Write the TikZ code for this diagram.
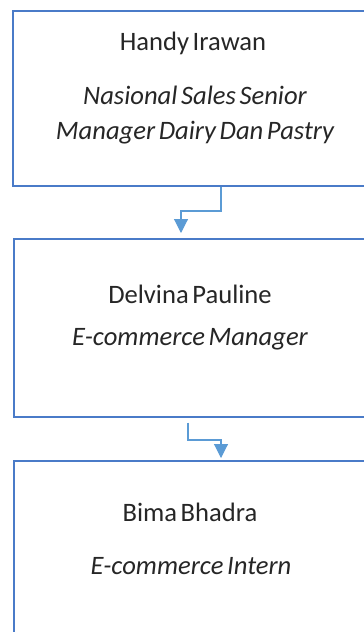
\documentclass[tikz,border=0pt]{standalone}
\usepackage{fontspec}
\setmainfont[WordSpace=0.6]{Carlito}
\usetikzlibrary{arrows.meta}

\definecolor{rahmen}{HTML}{4A7BC8}
\definecolor{pfeil}{HTML}{5B9BD5}

\tikzset{
    kasten/.style={draw=rahmen, line width=0.75pt, minimum width=182pt, anchor=north west, inner sep=0pt},
    person/.style={text=black!85, font=\fontsize{13.3pt}{17.5pt}\selectfont},
    rolle/.style={text=black!85, align=center, font=\fontsize{13.3pt}{17.5pt}\selectfont\itshape},
    verbinder/.style={draw=pfeil, line width=0.55pt, -{Triangle[width=7pt,length=7pt]}},
}

\begin{document}
\begin{tikzpicture}[x=0.5pt,y=-0.5pt]
            % Bildgröße
            \useasboundingbox (0,0) rectangle (364,632);
            \clip (0,0) rectangle (364,632);

            % Kästen
            \node[kasten, minimum height=87.5pt] (handy) at (12,10) {};
            \node[kasten, minimum height=89pt] (delvina) at (13,238) {};
            \node[kasten, minimum height=95pt] (bima) at (13,460) {};

            % Namen und Stellen
            \node[person] (handyname) at (193,43) {Handy Irawan};
            \node[rolle] (handyrolle) at (195,115.5) {Nasional Sales Senior\\Manager Dairy Dan Pastry};
            \node[person] (delvinaname) at (190,294) {Delvina Pauline};
            \node[rolle] (delvinarolle) at (190,339) {E-commerce Manager};
            \node[person] (bimaname) at (190,512) {Bima Bhadra};
            \node[rolle] (bimarolle) at (191,566) {E-commerce Intern};

            % Verbindungen
            \draw[verbinder, shorten >=2.5pt] (221,0 |- handy.south) -- (221,211) -| (181,0 |- delvina.north);
            \draw[verbinder, shorten <=2.5pt, shorten >=1pt] (188,0 |- delvina.south) -- (188,440) -| (221,0 |- bima.north);
        \end{tikzpicture}
\end{document}
